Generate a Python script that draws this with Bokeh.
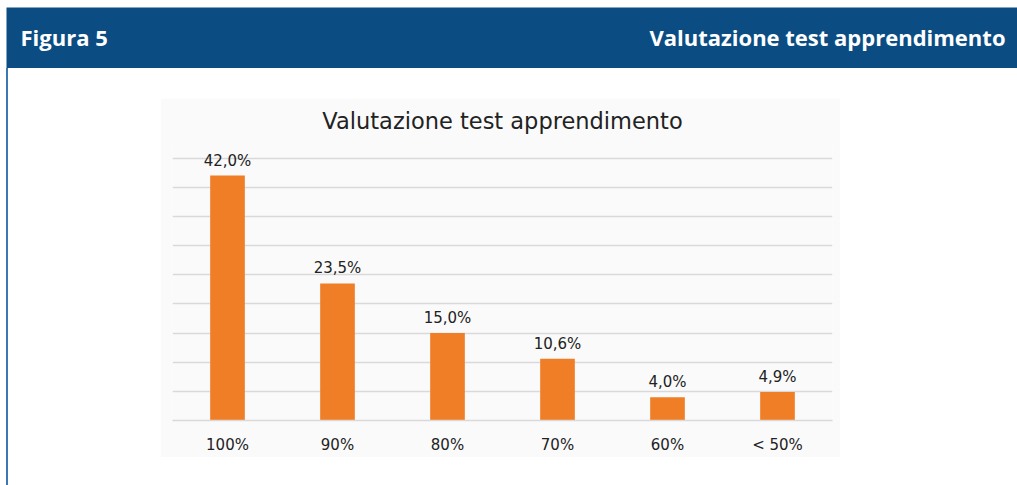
from bokeh.plotting import figure
from bokeh.models import Range1d, FixedTicker, ColumnDataSource, Spacer
from bokeh.layouts import column, row
from bokeh.core.properties import value
from bokeh.embed import file_html
from bokeh.resources import INLINE

# ---- data ----
categories = ["100%", "90%", "80%", "70%", "60%", "< 50%"]
shares = [42.0, 23.5, 15.0, 10.6, 4.0, 4.9]
grid_ticks = [0, 5, 10, 15, 20, 25, 30, 35, 40, 45]
header_left = "Figura 5"
header_right = "Valutazione test apprendimento"
chart_title = "Valutazione test apprendimento"

labels = [f"{v:.1f}".replace(".", ",") + "%" for v in shares]

# ---- styles ----
HDR = "#0b4d83"
BORDER = "#3a77b3"
PANEL = "#fafafa"
ORANGE = "#f07e26"
GRID = "#d9d9d9"
TXT = "#222222"
HW = 1011
HDR_H = 61

# ---- header ----
hdr = figure(width=HW, height=HDR_H, x_range=Range1d(0, HW), y_range=Range1d(0, HDR_H),
             output_backend="svg", toolbar_location=None,
             x_axis_type=None, y_axis_type=None, min_border=0,
             background_fill_color=HDR, border_fill_color=HDR, outline_line_color=None)
hdr.grid.visible = False
hdr.text(x=[14], y=[32], text=[header_left], text_font=value("Open Sans"),
         text_font_style="bold", text_font_size="22px", text_color="white",
         text_align="left", text_baseline="middle")
hdr.text(x=[HW - 12], y=[32], text=[header_right], text_font=value("Open Sans"),
         text_font_style="bold", text_font_size="22px", text_color="white",
         text_align="right", text_baseline="middle")

# ---- chart ----
src = ColumnDataSource(dict(cat=categories, share=shares, label=labels))

p = figure(width=680, height=359, x_range=categories, y_range=Range1d(0, 48),
           output_backend="svg", toolbar_location=None, y_axis_location=None,
           min_border_left=12, min_border_right=8, min_border_top=42, min_border_bottom=37,
           background_fill_color=PANEL, border_fill_color=PANEL, outline_line_color=None,
           title=chart_title)
p.title.align = "center"
p.title.text_font = "DejaVu Sans"
p.title.text_font_style = "normal"
p.title.text_font_size = "22.5px"
p.title.text_color = TXT
p.title.standoff = 13

p.xgrid.visible = False
p.ygrid.ticker = FixedTicker(ticks=grid_ticks)
p.ygrid.grid_line_color = GRID
p.ygrid.grid_line_width = 1.4

p.xaxis.axis_line_color = GRID
p.xaxis.axis_line_width = 1.4
p.xaxis.major_tick_line_color = None
p.xaxis.minor_tick_line_color = None
p.xaxis.major_label_text_font = "DejaVu Sans"
p.xaxis.major_label_text_font_size = "15px"
p.xaxis.major_label_text_color = TXT
p.xaxis.major_label_standoff = 9

p.vbar(x="cat", top="share", width=0.315, source=src, fill_color=ORANGE, line_color=None)
p.text(x="cat", y="share", text="label", source=src, y_offset=-15,
       text_align="center", text_baseline="middle",
       text_font=value("DejaVu Sans"), text_font_size="15px", text_color=TXT)

# ---- layout ----
top_gap = Spacer(width=1017, height=7)
header_row = row(Spacer(width=6, height=HDR_H), hdr)
left_line = Spacer(width=2, height=417, styles={"background-color": BORDER})
body = row(Spacer(width=6, height=417), left_line, Spacer(width=152, height=417),
           column(Spacer(width=680, height=30), p, Spacer(width=680, height=28)))
layout = column(top_gap, header_row, body)

open("out.html", "w").write(file_html(layout, INLINE))
